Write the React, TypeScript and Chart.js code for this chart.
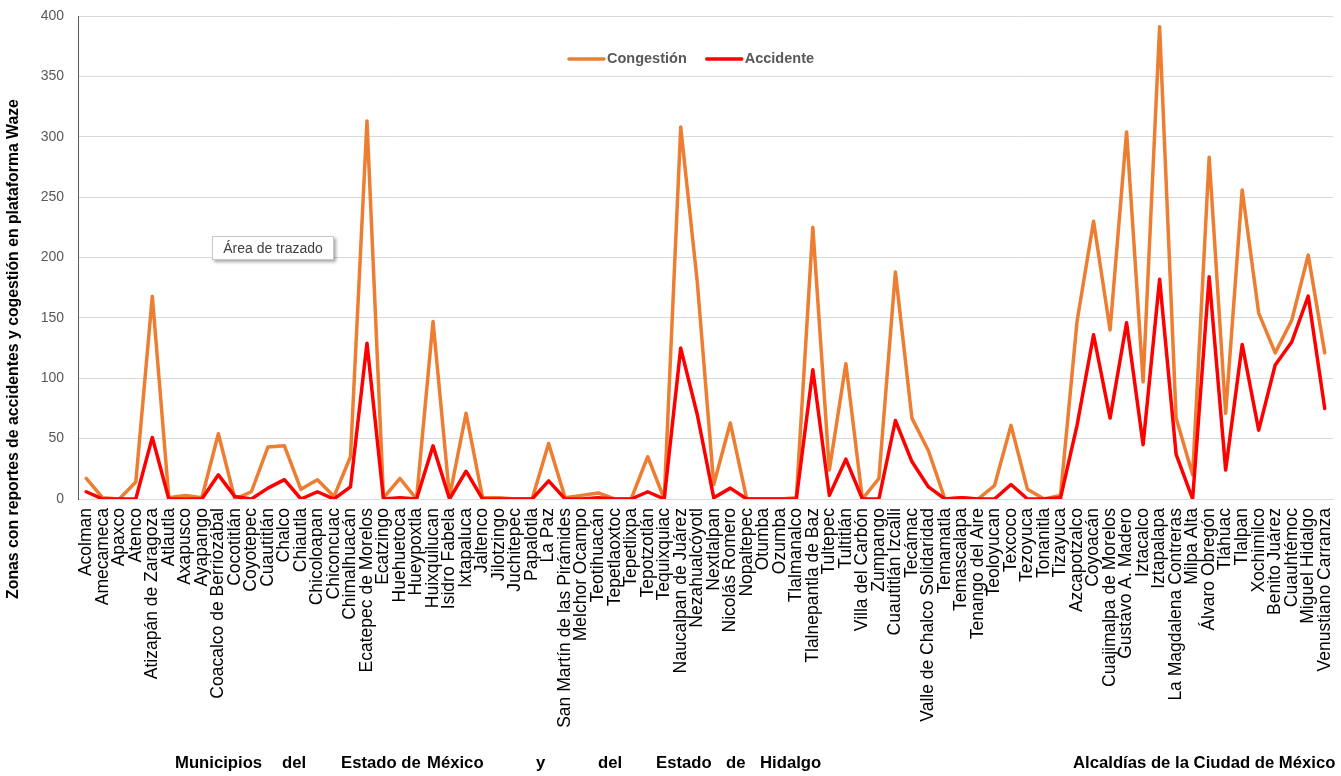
import React, { useEffect, useRef } from "react";
import { Chart, registerables } from "chart.js";

Chart.register(...registerables);

const FONT = '"Liberation Sans", Arial, sans-serif';

const categories: string[] = [
  "Acolman", "Amecameca", "Apaxco", "Atenco", "Atizapán de Zaragoza", "Atlautla", "Axapusco", "Ayapango",
  "Coacalco de Berriozábal", "Cocotitlán", "Coyotepec", "Cuautitlán", "Chalco", "Chiautla", "Chicoloapan",
  "Chiconcuac", "Chimalhuacán", "Ecatepec de Morelos", "Ecatzingo", "Huehuetoca", "Hueypoxtla", "Huixquilucan",
  "Isidro Fabela", "Ixtapaluca", "Jaltenco", "Jilotzingo", "Juchitepec", "Papalotla", "La Paz",
  "San Martín de las Pirámides", "Melchor Ocampo", "Teotihuacán", "Tepetlaoxtoc", "Tepetlixpa", "Tepotzotlán",
  "Tequixquiac", "Naucalpan de Juárez", "Nezahualcóyotl", "Nextlalpan", "Nicolás Romero", "Nopaltepec", "Otumba",
  "Ozumba", "Tlalmanalco", "Tlalnepantla de Baz", "Tultepec", "Tultitlán", "Villa del Carbón", "Zumpango",
  "Cuautitlán Izcalli", "Tecámac", "Valle de Chalco Solidaridad", "Temamatla", "Temascalapa", "Tenango del Aire",
  "Teoloyucan", "Texcoco", "Tezoyuca", "Tonanitla", "Tizayuca", "Azcapotzalco", "Coyoacán", "Cuajimalpa de Morelos",
  "Gustavo A. Madero", "Iztacalco", "Iztapalapa", "La Magdalena Contreras", "Milpa Alta", "Álvaro Obregón",
  "Tláhuac", "Tlalpan", "Xochimilco", "Benito Juárez", "Cuauhtémoc", "Miguel Hidalgo", "Venustiano Carranza",
];

const congestion: number[] = [
  17, 1, 0, 14, 168, 1, 3, 1, 54, 0, 6, 43, 44, 8, 16, 2, 35, 313, 1, 17, 0, 147, 2, 71, 1, 1, 0, 0, 46,
  1, 3, 5, 0, 0, 35, 0, 308, 180, 12, 63, 0, 0, 0, 1, 225, 24, 112, 0, 17, 188, 67, 40, 0, 1, 0, 11, 61,
  8, 0, 3, 147, 230, 140, 304, 97, 391, 67, 20, 283, 71, 256, 154, 121, 148, 202, 121,
];

const accidente: number[] = [
  6, 0, 0, 0, 51, 0, 0, 0, 20, 2, 0, 9, 16, 0, 6, 0, 10, 129, 0, 1, 0, 44, 0, 23, 0, 0, 0, 0, 15,
  0, 0, 1, 0, 0, 6, 0, 125, 70, 1, 9, 0, 0, 0, 0, 107, 3, 33, 0, 0, 65, 31, 10, 0, 1, 0, 0, 12,
  0, 0, 1, 61, 136, 67, 146, 45, 182, 37, 0, 184, 24, 128, 57, 111, 130, 168, 75,
];

const yTicks: number[] = [0, 50, 100, 150, 200, 250, 300, 350, 400];

const seriesNames: string[] = ["Congestión", "Accidente"];
const seriesColors: string[] = ["#ED7D31", "#FF0000"];

const yTitle = "Zonas con reportes de accidentes y cogestión en plataforma Waze";

const groupWords: { text: string; x: number }[] = [
  { text: "Municipios", x: 175 },
  { text: "del", x: 282 },
  { text: "Estado de", x: 341 },
  { text: "México", x: 427 },
  { text: "y", x: 536 },
  { text: "del", x: 598 },
  { text: "Estado", x: 656 },
  { text: "de", x: 726 },
  { text: "Hidalgo", x: 760 },
  { text: "Alcaldías de la Ciudad de México", x: 1073 },
];

const overlayPlugin = {
  id: "overlay",
  afterDraw(chart: any) {
    const ctx = chart.ctx as CanvasRenderingContext2D;
    // Y axis title
    ctx.save();
    ctx.translate(14, 349);
    ctx.rotate(-Math.PI / 2);
    ctx.font = `bold 15.8px ${FONT}`;
    ctx.fillStyle = "#000000";
    ctx.textAlign = "center";
    ctx.textBaseline = "middle";
    ctx.fillText(yTitle, 0, 0);
    ctx.restore();

    // Legend
    ctx.save();
    ctx.font = `bold 14.5px ${FONT}`;
    ctx.textBaseline = "middle";
    ctx.textAlign = "left";
    let x = 569;
    const y = 59;
    chart.data.datasets.forEach((ds: any) => {
      ctx.strokeStyle = ds.borderColor;
      ctx.lineWidth = 3.5;
      ctx.lineCap = "round";
      ctx.beginPath();
      ctx.moveTo(x, y);
      ctx.lineTo(x + 35, y);
      ctx.stroke();
      ctx.fillStyle = "#595959";
      ctx.fillText(ds.label, x + 38, y);
      x += 38 + ctx.measureText(ds.label).width + 20;
    });
    ctx.restore();
  },
};

export default function App() {
  const ref = useRef<HTMLCanvasElement>(null);

  useEffect(() => {
    document.body.style.margin = "0";
    const canvas = ref.current!;
    const chart = new Chart(canvas, {
      type: "line",
      data: {
        labels: categories,
        datasets: [
          {
            label: seriesNames[0],
            data: congestion,
            borderColor: seriesColors[0],
            backgroundColor: seriesColors[0],
            borderWidth: 3.5,
            pointRadius: 0,
            tension: 0,
            borderJoinStyle: "round",
            borderCapStyle: "round",
            order: 1,
          },
          {
            label: seriesNames[1],
            data: accidente,
            borderColor: seriesColors[1],
            backgroundColor: seriesColors[1],
            borderWidth: 3.5,
            pointRadius: 0,
            tension: 0,
            borderJoinStyle: "round",
            borderCapStyle: "round",
            order: 0,
          },
        ],
      },
      options: {
        responsive: false,
        animation: false,
        devicePixelRatio: 1,
        layout: { padding: { top: 16, right: 8, left: 0, bottom: 0 } },
        plugins: {
          legend: { display: false },
          tooltip: { enabled: false },
          title: { display: false },
        },
        scales: {
          x: {
            type: "category",
            offset: true,
            grid: { display: false, drawTicks: false },
            border: { display: true, color: "#D9D9D9", width: 1 },
            ticks: {
              autoSkip: false,
              minRotation: 90,
              maxRotation: 90,
              padding: 9,
              color: "#000000",
              font: { family: FONT, size: 17.5 },
            },
            afterFit: (s: any) => {
              s.height = 277;
              s.paddingLeft = 0;
              s.paddingRight = 0;
            },
          },
          y: {
            min: 0,
            max: 400,
            grid: { color: "#D9D9D9", lineWidth: 1, drawTicks: false },
            border: { display: true, color: "#595959", width: 1 },
            ticks: {
              padding: 14,
              color: "#595959",
              font: { family: FONT, size: 14 },
            },
            afterBuildTicks: (s: any) => {
              s.ticks = yTicks.map((v) => ({ value: v }));
            },
            afterFit: (s: any) => {
              s.width = 78;
              s.paddingTop = 0;
              s.paddingBottom = 0;
            },
          },
        },
      } as any,
      plugins: [overlayPlugin],
    });
    return () => chart.destroy();
  }, []);

  return (
    <div
      style={{
        position: "relative",
        width: 1341,
        height: 776,
        background: "#ffffff",
        fontFamily: FONT,
        overflow: "hidden",
      }}
    >
      <canvas ref={ref} width={1341} height={776} style={{ position: "absolute", left: 0, top: 0 }} />
      <div
        style={{
          position: "absolute",
          left: 212,
          top: 236,
          width: 120,
          height: 22,
          border: "1px solid #c8c8c8",
          background: "#ffffff",
          boxShadow: "2px 2px 3px rgba(0,0,0,0.35)",
          color: "#404040",
          fontSize: 14,
          lineHeight: "22px",
          textAlign: "center",
          whiteSpace: "nowrap",
        }}
      >
        Área de trazado
      </div>
      {groupWords.map((w) => (
        <div
          key={w.text + w.x}
          style={{
            position: "absolute",
            left: w.x,
            top: 753,
            fontSize: 16.7,
            fontWeight: "bold",
            color: "#000000",
            whiteSpace: "nowrap",
            lineHeight: "20px",
          }}
        >
          {w.text}
        </div>
      ))}
    </div>
  );
}
